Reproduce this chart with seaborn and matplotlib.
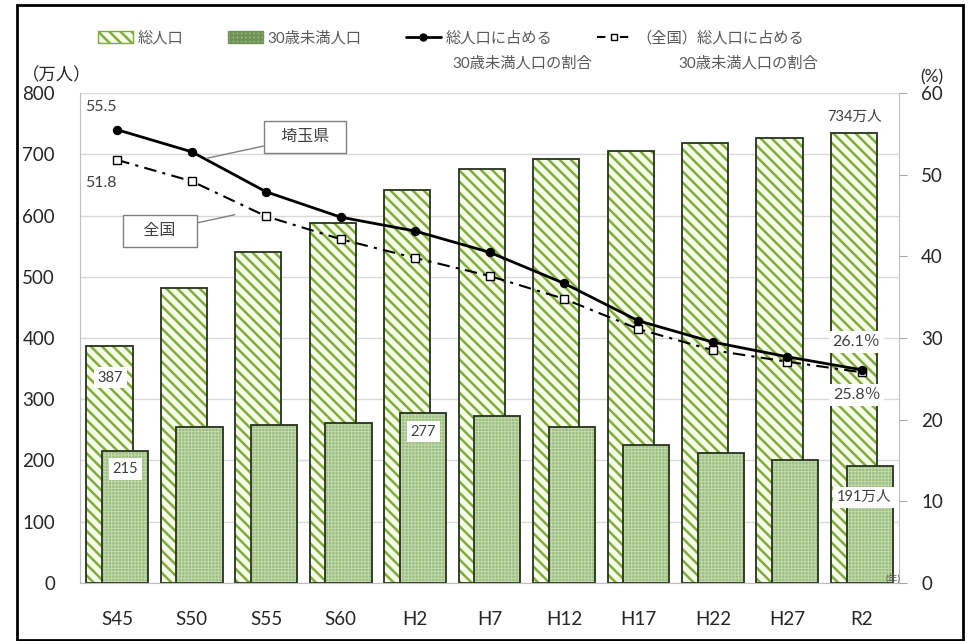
import numpy as np
import seaborn as sns
from matplotlib import pyplot as plt
from matplotlib import patches as mpatches
from matplotlib.lines import Line2D

years = ["S45", "S50", "S55", "S60", "H2", "H7", "H12", "H17", "H22", "H27", "R2"]
total_pop = [387, 482, 541, 587, 641, 676, 693, 706, 719, 727, 734]
under30_pop = [215, 255, 258, 261, 277, 273, 255, 225, 212, 201, 191]
saitama_ratio = [55.5, 52.8, 47.9, 44.8, 43.1, 40.5, 36.7, 32.1, 29.5, 27.7, 26.1]
national_ratio = [51.8, 49.2, 44.9, 42.1, 39.8, 37.6, 34.8, 31.1, 28.5, 27.1, 25.8]

legend_labels = ["総人口", "30歳未満人口", "総人口に占める", "（全国）総人口に占める"]

HATCH_FACE = "#f6fae8"
HATCH_GREEN = "#7fae3c"
DOT_FACE = "#9ebf82"
DOT_GRID = "#c6dbb2"
EDGE = "#26331c"
GRAY = "#595959"

sns.set_theme(style="white")
plt.rcParams["font.family"] = ["Lato", "Noto Sans CJK JP"]
plt.rcParams["hatch.linewidth"] = 1.8

fig = plt.figure(figsize=(9.7, 6.41), dpi=100)
ax = fig.add_axes([0.0825, 0.0905, 0.8443, 0.7644])


def bars(values, shift, hatch_lw=None, **kws):
    n = len(ax.patches)
    sns.barplot(x=years, y=values, order=years, width=0.62, errorbar=None,
                saturation=1, ax=ax, **kws)
    for p in ax.patches[n:]:
        p.set_x(p.get_x() + shift)
        if hatch_lw is not None and hasattr(p, "set_hatch_linewidth"):
            p.set_hatch_linewidth(hatch_lw)


# total population (hatched) behind, under-30 (dotted) in front
bars(total_pop, -0.105, color=HATCH_FACE, edgecolor=HATCH_GREEN, linewidth=0,
     hatch="\\\\\\", zorder=2)
bars(total_pop, -0.105, fill=False, color=EDGE, linewidth=1.3, zorder=2.1)
bars(under30_pop, 0.105, hatch_lw=0.6, color=DOT_FACE, edgecolor=DOT_GRID,
     linewidth=0, hatch="+++++", zorder=2.2)
bars(under30_pop, 0.105, fill=False, color=EDGE, linewidth=1.3, zorder=2.3)

ax.set_ylim(0, 800)
ax.set_yticks(range(0, 801, 100))
ax.yaxis.grid(True, color="#d9d9d9", linewidth=1)
ax.set_axisbelow(True)
ax.set_xlabel("")
ax.set_ylabel("")
ax.tick_params(axis="x", labelsize=13.5, pad=20, length=0)
ax.tick_params(axis="y", labelsize=13.5, pad=18, length=0)
for s in ["top", "right"]:
    ax.spines[s].set_visible(False)
for s in ["left", "bottom"]:
    ax.spines[s].set_color("#bfbfbf")
    ax.spines[s].set_linewidth(0.8)

ax2 = ax.twinx()
pos = np.arange(len(years))
sns.lineplot(x=pos, y=saitama_ratio, ax=ax2, color="black", linewidth=2,
             marker="o", markersize=6, markeredgecolor="black", zorder=4)
sns.lineplot(x=pos, y=national_ratio, ax=ax2, color="black", linewidth=1.5,
             linestyle=(0, (6, 3, 1.5, 3)), marker="s", markersize=6,
             markerfacecolor="white", markeredgecolor="black",
             markeredgewidth=1, zorder=3)
ax2.set_ylim(0, 60)
ax2.set_yticks(range(0, 61, 10))
ax2.set_ylabel("")
ax2.grid(False)
ax2.tick_params(axis="y", labelsize=13.5, length=6, width=0.8, color="#a6a6a6",
                pad=10, right=True)
for s in ["top", "left", "bottom"]:
    ax2.spines[s].set_visible(False)
ax2.spines["right"].set_color("#bfbfbf")
ax2.spines["right"].set_linewidth(0.8)
ax.set_xlim(-0.5, 10.5)

# data labels
lab = dict(fontsize=11.5, color="#404040", ha="center", va="center")
ax2.text(-0.22, 58.3, "55.5", **lab)
ax2.text(-0.22, 49.0, "51.8", **lab)
white = dict(boxstyle="square,pad=0.25", fc="white", ec="none")
ax.text(-0.09, 335, "387", bbox=white, zorder=5, **{**lab, "fontsize": 10.5})
ax.text(0.11, 186, "215", bbox=white, zorder=5, **{**lab, "fontsize": 10.5})
ax.text(4.11, 247, "277", bbox=white, zorder=5, **{**lab, "fontsize": 10.5})
ax.text(9.9, 761, "734万人", **{**lab, "fontsize": 10.5})
ax2.text(9.93, 29.5, "26.1％", bbox=white, zorder=6, **lab)
ax2.text(9.93, 23.0, "25.8％", bbox=white, zorder=6, **lab)
ax.text(10.03, 140, "191万人", bbox=white, zorder=6, **{**lab, "fontsize": 10.5})

call = dict(boxstyle="square,pad=0.55", fc="white", ec="#808080", lw=1)
line = dict(arrowstyle="-", color="#808080", lw=1, shrinkA=0, shrinkB=0)
ax2.annotate("  埼玉県  ", xy=(1.2, 52.0), xytext=(2.52, 54.6), bbox=call,
             arrowprops=line, zorder=6, **lab)
ax2.annotate("   全国   ", xy=(1.58, 45.1), xytext=(0.57, 43.1), bbox=call,
             arrowprops=line, zorder=6, **lab)

# legend
handles = [
    mpatches.Patch(facecolor=HATCH_FACE, edgecolor=HATCH_GREEN, hatch="\\\\\\"),
    mpatches.Patch(facecolor=DOT_FACE, edgecolor="#6f9455", hatch="++++"),
    Line2D([], [], color="black", lw=2, marker="o", markersize=5),
    Line2D([], [], color="black", lw=1.5, linestyle=(0, (4, 3, 1, 3)),
           marker="s", markersize=5, markerfacecolor="white"),
]
fig.legend(handles, legend_labels, loc="upper left", bbox_to_anchor=(0.101, 0.952),
           ncol=4, frameon=False, fontsize=11, labelcolor=GRAY, handlelength=2.3,
           handleheight=0.8, handletextpad=0.3, columnspacing=2.9,
           borderaxespad=0, borderpad=0)
fig.text(452 / 970, 1 - 63 / 641, "30歳未満人口の割合", fontsize=11, color=GRAY,
         va="center")
fig.text(678 / 970, 1 - 63 / 641, "30歳未満人口の割合", fontsize=11, color=GRAY,
         va="center")

fig.text(57 / 970, 1 - 75 / 641, "（万人）", fontsize=12.5, ha="center", va="center")
fig.text(932 / 970, 1 - 77 / 641, "(%)", fontsize=12.5, ha="center", va="center")
fig.text(893 / 970, 1 - 579 / 641, "(年)", fontsize=7, color=GRAY, ha="center",
         va="center")

fig.add_artist(mpatches.Rectangle((17 / 970, 0.002), 946 / 970, 0.99,
                                  transform=fig.transFigure, fill=False,
                                  lw=2, ec="black"))

fig.savefig("out.png", dpi=100)
